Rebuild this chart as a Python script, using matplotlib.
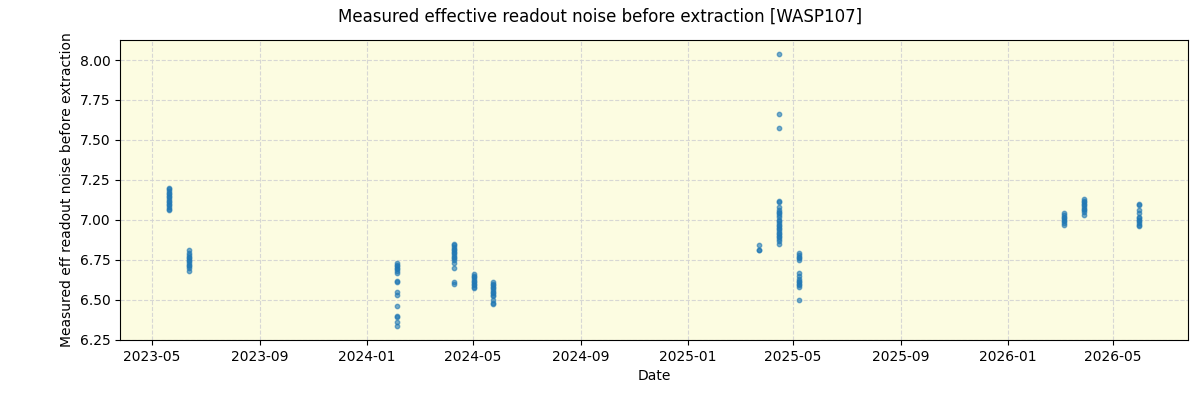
import matplotlib
matplotlib.use("Agg")
import matplotlib.pyplot as plt
import matplotlib.dates as mdates
import numpy as np
import pandas as pd

# observation dates (one per visit cluster) and measured values
visit_dates = [
    "2023-05-20", "2023-06-12", "2024-02-05", "2024-04-09", "2024-05-02",
    "2024-05-24", "2025-03-23", "2025-04-15", "2025-05-08", "2026-03-06",
    "2026-03-29", "2026-05-31",
]
visit_values = [
    [7.20, 7.19, 7.18, 7.17, 7.16, 7.15, 7.14, 7.13, 7.12, 7.11, 7.10, 7.09,
     7.08, 7.07, 7.06],
    [6.81, 6.79, 6.78, 6.77, 6.76, 6.75, 6.74, 6.73, 6.72, 6.71, 6.70, 6.68],
    [6.73, 6.72, 6.71, 6.70, 6.69, 6.68, 6.67, 6.62, 6.61, 6.55, 6.53, 6.46,
     6.40, 6.39, 6.36, 6.333],
    [6.85, 6.84, 6.83, 6.82, 6.81, 6.80, 6.79, 6.78, 6.77, 6.76, 6.75, 6.73,
     6.70, 6.61, 6.60],
    [6.66, 6.65, 6.64, 6.63, 6.62, 6.61, 6.60, 6.59, 6.58, 6.57],
    [6.61, 6.60, 6.59, 6.58, 6.57, 6.56, 6.55, 6.54, 6.53, 6.52, 6.50, 6.48,
     6.47],
    [6.84, 6.81, 6.81],
    [8.04, 7.66, 7.575, 7.12, 7.11, 7.08, 7.06, 7.05, 7.04, 7.03, 7.02, 7.00,
     6.99, 6.98, 6.97, 6.96, 6.95, 6.94, 6.93, 6.92, 6.91, 6.90, 6.89, 6.88,
     6.87, 6.85],
    [6.79, 6.78, 6.77, 6.76, 6.75, 6.67, 6.65, 6.63, 6.62, 6.61, 6.60, 6.59,
     6.58, 6.50],
    [7.04, 7.03, 7.02, 7.01, 7.00, 6.99, 6.98, 6.97],
    [7.13, 7.12, 7.11, 7.10, 7.09, 7.08, 7.07, 7.06, 7.05, 7.03],
    [7.10, 7.09, 7.06, 7.04, 7.02, 7.01, 7.00, 6.99, 6.98, 6.97, 6.96],
]

dates = []
values = []
for d, vals in zip(visit_dates, visit_values):
    dates += [pd.Timestamp(d)] * len(vals)
    values += vals

fig = plt.figure(figsize=(12, 4), dpi=100)
ax = fig.add_axes([0.1, 0.15, 0.89, 0.75])
ax.set_facecolor("#fcfce1")
ax.scatter(dates, values, s=10, alpha=0.6, color="tab:blue", zorder=3)

ax.xaxis.set_major_locator(mdates.MonthLocator(bymonth=[1, 5, 9]))
ax.xaxis.set_major_formatter(mdates.DateFormatter("%Y-%m"))
ax.grid(True, linestyle="--", color="lightgray", alpha=0.9)

ax.set_xlabel("Date")
ax.set_ylabel("Measured eff readout noise before extraction")
fig.suptitle("Measured effective readout noise before extraction [WASP107]")

fig.savefig("out.png", dpi=100)
plt.close(fig)
